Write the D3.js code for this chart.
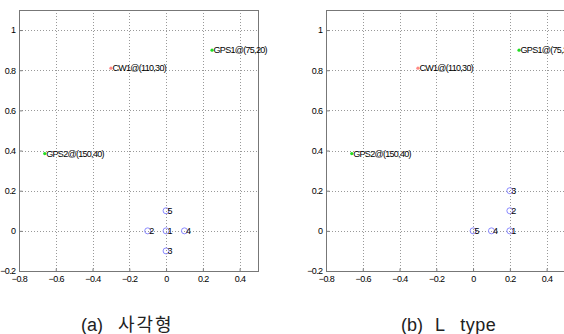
<!DOCTYPE html>
<html>
<head>
<meta charset="utf-8">
<script src="https://cdn.jsdelivr.net/npm/d3@7"></script>
<style>
  body { margin: 0; background: #fff; }
  svg { display: block; }
</style>
</head>
<body>
<svg id="chart" width="564" height="334"></svg>
<script>
// ─── Data ───
const xTicks = [-0.8, -0.6, -0.4, -0.2, 0, 0.2, 0.4];
const yTicks = [-0.2, 0, 0.2, 0.4, 0.6, 0.8, 1];

const beaconNames = ["GPS1@(75,20)", "CW1@(110,30)", "GPS2@(150,40)"];
const beaconX = [0.25, -0.3, -0.66];
const beaconY = [0.9, 0.81, 0.385];
const beaconColors = ["#22dd22", "#ff8888", "#22dd22"];

const anchorIds = ["1", "2", "3", "4", "5"];
const squareX = [0, -0.1, 0, 0.1, 0];
const squareY = [0, 0, -0.1, 0, 0.1];
const lTypeX = [0.2, 0.2, 0.2, 0.1, 0];
const lTypeY = [0, 0.1, 0.2, 0, 0];

const captionTags = ["(a)", "(b)"];
const captionNames = ["사각형", "L type"];

const svg = d3.select("#chart");
const W = 239, H = 261;

// ─── Panels ───
drawPanel(19, 10, squareX, squareY, 0, 81, 118);
drawPanel(326, 10, lTypeX, lTypeY, 1, 401, 435);

function drawPanel(left, top, ax, ay, k, tagX, nameX) {
  const x = d3.scaleLinear().domain([-0.8, 0.5]).range([left, left + W]);
  const y = d3.scaleLinear().domain([-0.2, 1.1]).range([top + H, top]);
  const g = svg.append("g");

  // grid
  g.selectAll(".gx").data(xTicks.slice(1)).enter().append("line")
    .attr("x1", d => Math.round(x(d)) + 0.5).attr("x2", d => Math.round(x(d)) + 0.5)
    .attr("y1", top).attr("y2", top + H)
    .attr("stroke", "#999").attr("stroke-dasharray", "1,2");
  g.selectAll(".gy").data(yTicks.slice(1)).enter().append("line")
    .attr("y1", d => Math.round(y(d)) + 0.5).attr("y2", d => Math.round(y(d)) + 0.5)
    .attr("x1", left).attr("x2", left + W)
    .attr("stroke", "#999").attr("stroke-dasharray", "1,2");

  // axes box
  g.append("rect")
    .attr("x", left + 0.5).attr("y", top + 0.5)
    .attr("width", W).attr("height", H)
    .attr("fill", "none").attr("stroke", "#777");

  // ticks (inward)
  const fmt = d => d === 0 ? "0" : d3.format("")(d);
  const xAxis = d3.axisBottom(x).tickValues(xTicks).tickSize(-3).tickPadding(5).tickFormat(fmt);
  const yAxis = d3.axisLeft(y).tickValues(yTicks).tickSize(-3).tickPadding(4).tickFormat(fmt);
  const gx = g.append("g").attr("transform", `translate(0,${top + H + 0.5})`).call(xAxis);
  const gy = g.append("g").attr("transform", `translate(${left + 0.5},0)`).call(yAxis);
  [gx, gy].forEach(a => {
    a.select(".domain").remove();
    a.selectAll("line").attr("stroke", "#777");
    a.selectAll("text")
      .attr("font-family", "Liberation Sans, Arial, sans-serif")
      .attr("font-size", 9).attr("letter-spacing", -0.6).attr("fill", "#000");
  });
  gx.selectAll("text").attr("dy", "0.6em");

  // beacons
  g.selectAll(".bc").data(beaconNames).enter().append("circle")
    .attr("cx", (d, i) => x(beaconX[i])).attr("cy", (d, i) => y(beaconY[i]))
    .attr("r", 1.6).attr("fill", (d, i) => beaconColors[i]);
  g.selectAll(".bl").data(beaconNames).enter().append("text")
    .attr("x", (d, i) => x(beaconX[i]) + 1.5).attr("y", (d, i) => y(beaconY[i]))
    .attr("dy", "0.35em")
    .attr("font-family", "Liberation Sans, Arial, sans-serif")
    .attr("font-size", 9).attr("letter-spacing", -0.7)
    .text(d => d);

  // anchors
  g.selectAll(".ac").data(anchorIds).enter().append("circle")
    .attr("cx", (d, i) => x(ax[i])).attr("cy", (d, i) => y(ay[i]))
    .attr("r", 3).attr("fill", "none").attr("stroke", "#8a8aff").attr("stroke-width", 1);
  g.selectAll(".al").data(anchorIds).enter().append("text")
    .attr("x", (d, i) => x(ax[i]) + 1.5).attr("y", (d, i) => y(ay[i]))
    .attr("dy", "0.35em")
    .attr("font-family", "Liberation Sans, Arial, sans-serif")
    .attr("font-size", 9)
    .text(d => d);

  // caption
  svg.append("text")
    .attr("x", tagX).attr("y", 331)
    .attr("font-family", "Liberation Sans, Arial, sans-serif")
    .attr("font-size", 18).attr("fill", "#222")
    .text(captionTags[k]);
  svg.append("text")
    .attr("x", nameX).attr("y", 331)
    .attr("font-family", "Liberation Sans, 'Noto Sans CJK KR', sans-serif")
    .attr("font-size", 18).attr("fill", "#222")
    .attr("letter-spacing", k === 0 ? 2 : 0.5)
    .attr("word-spacing", 10)
    .text(captionNames[k]);
}
</script>
</body>
</html>
